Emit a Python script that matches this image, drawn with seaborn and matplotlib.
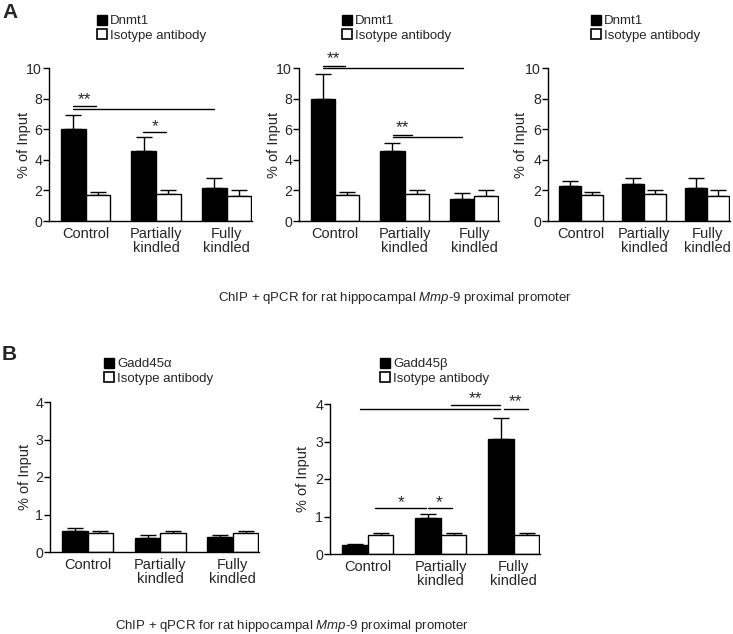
import numpy as np
import pandas as pd
import matplotlib
matplotlib.use("Agg")
import matplotlib.pyplot as plt
import seaborn as sns
from matplotlib.patches import Patch

sns.set_style("ticks")
plt.rcParams['font.family'] = ['Liberation Sans', 'DejaVu Sans']
plt.rcParams['mathtext.fontset'] = 'custom'
plt.rcParams['mathtext.rm'] = 'Liberation Sans'
plt.rcParams['mathtext.it'] = 'Liberation Sans:italic'

groups = ["Control", "Partially\nkindled", "Fully\nkindled"]
iso_label = "Isotype antibody"

# Panel A
a1_dnmt1 = [6.0, 4.58, 2.18]
a1_dnmt1_err = [0.92, 0.9, 0.62]
a2_dnmt1 = [8.0, 4.6, 1.46]
a2_dnmt1_err = [1.6, 0.5, 0.37]
a3_dnmt1 = [2.31, 2.42, 2.18]
a3_dnmt1_err = [0.29, 0.42, 0.62]
a_iso = [1.70, 1.78, 1.65]
a_iso_err = [0.18, 0.23, 0.40]

# Panel B
b1_gadd45a = [0.56, 0.37, 0.40]
b1_gadd45a_err = [0.08, 0.08, 0.05]
b2_gadd45b = [0.23, 0.96, 3.06]
b2_gadd45b_err = [0.03, 0.12, 0.58]
b_iso = [0.52, 0.52, 0.52]
b_iso_err = [0.03, 0.04, 0.04]

W, H = 733, 634
fig = plt.figure(figsize=(W / 100, H / 100), dpi=100)

def add_ax(l, t, r, b):
    return fig.add_axes([l / W, 1 - b / H, (r - l) / W, (b - t) / H])

FS = 9.5
TFS = 10.2

def draw(ax, name, vals, errs, iso, iso_err, ymax, step, leg_xy, ylab_dx):
    df = pd.DataFrame({
        "group": groups * 2,
        "value": list(vals) + list(iso),
        "series": [name] * 3 + [iso_label] * 3,
    })
    sns.barplot(data=df, x="group", y="value", hue="series",
                palette=["black", "white"], edgecolor="black", linewidth=1,
                width=0.7, gap=0, errorbar=None, legend=False, ax=ax, zorder=2)
    for cont, e in zip(ax.containers, [errs, iso_err]):
        xs = [p.get_x() + p.get_width() / 2 for p in cont]
        hs = [p.get_height() for p in cont]
        ax.errorbar(xs, hs, yerr=[np.zeros(3), e], fmt="none", ecolor="black",
                    elinewidth=1, capsize=6, capthick=1, zorder=1)
    ax.set_xlim(-0.52, 2.36)
    ax.set_ylim(0, ymax)
    ticks = np.arange(0, ymax + 0.01, step)
    ax.set_yticks(ticks)
    ax.set_yticklabels([f"{v:g}" for v in ticks])
    for t in ax.get_xticklabels():
        t.set_linespacing(1.05)
    ax.set_xlabel("")
    ax.set_ylabel("% of Input", fontsize=10.5)
    bb = ax.get_position()
    ax.yaxis.set_label_coords(ylab_dx / (bb.width * W), 0.5)
    ax.yaxis.label.set_verticalalignment("center")
    ax.tick_params(axis="y", labelsize=TFS, length=4, width=1, pad=1, color="black")
    ax.tick_params(axis="x", labelsize=10.5, length=0, pad=4)
    for s in ["top", "right"]:
        ax.spines[s].set_visible(False)
    for s in ["left", "bottom"]:
        ax.spines[s].set_linewidth(1)
        ax.spines[s].set_color("black")
    handles = [Patch(facecolor="black", edgecolor="black", linewidth=1, label=name),
               Patch(facecolor="white", edgecolor="black", linewidth=1.2, label=iso_label)]
    fig.legend(handles=handles, loc="upper left",
               bbox_to_anchor=(leg_xy[0] / W, 1 - leg_xy[1] / H),
               bbox_transform=fig.transFigure, frameon=False, fontsize=FS,
               handlelength=0.75, handleheight=0.75, handletextpad=0.25,
               labelspacing=0.15, borderpad=0, borderaxespad=0)

def sig(ax, x0, x1, y, txt=None, tx=None, ty=None):
    ax.plot([x0, x1], [y, y], color="black", lw=1, clip_on=False)
    if txt:
        ax.text(tx, ty, txt, ha="center", va="center", fontsize=12.5, clip_on=False)

axA1 = add_ax(49, 68, 252, 221)
axA2 = add_ax(299, 68, 499, 221)
axA3 = add_ax(548, 68, 730, 221)
axB1 = add_ax(50, 402, 259, 552)
axB2 = add_ax(330, 404, 540, 554)

draw(axA1, "Dnmt1", a1_dnmt1, a1_dnmt1_err, a_iso, a_iso_err, 10, 2, (97, 15), -25)
draw(axA2, "Dnmt1", a2_dnmt1, a2_dnmt1_err, a_iso, a_iso_err, 10, 2, (342, 15), -25)
draw(axA3, "Dnmt1", a3_dnmt1, a3_dnmt1_err, a_iso, a_iso_err, 10, 2, (591, 15), -27)
draw(axB1, "Gadd45α", b1_gadd45a, b1_gadd45a_err, b_iso, b_iso_err, 4, 1, (104, 358), -25)
draw(axB2, "Gadd45β", b2_gadd45b, b2_gadd45b_err, b_iso, b_iso_err, 4, 1, (380, 358), -27)

# significance A1
sig(axA1, -0.18, 1.82, 7.3)
sig(axA1, -0.18, 0.14, 7.5, "**", -0.02, 7.95)
sig(axA1, 0.82, 1.14, 5.8, "*", 0.98, 6.2)
# significance A2
sig(axA2, -0.17, 1.84, 10.0)
sig(axA2, -0.17, 0.14, 10.15, "**", -0.02, 10.6)
sig(axA2, 0.83, 1.83, 5.5)
sig(axA2, 0.83, 1.11, 5.65, "**", 0.97, 6.1)
# significance B2
sig(axB2, -0.11, 1.81, 3.87)
sig(axB2, 1.14, 1.81, 3.97, "**", 1.47, 4.15)
sig(axB2, 1.86, 2.19, 3.87, "**", 2.02, 4.05)
sig(axB2, 0.10, 0.79, 1.23, "*", 0.46, 1.38)
sig(axB2, 0.83, 1.15, 1.23, "*", 0.97, 1.38)

cap = r"ChIP + qPCR for rat hippocampal $\mathit{Mmp}$-$\mathit{9}$ proximal promoter"
fig.text(395 / W, 1 - 298 / H, cap, ha="center", va="center", fontsize=FS)
fig.text(292 / W, 1 - 626 / H, cap, ha="center", va="center", fontsize=FS)
fig.text(2 / W, 1 - 13 / H, "A", ha="left", va="center", fontsize=15, fontweight="bold")
fig.text(2 / W, 1 - 355 / H, "B", ha="left", va="center", fontsize=15, fontweight="bold")

fig.savefig("out.png", dpi=100)
